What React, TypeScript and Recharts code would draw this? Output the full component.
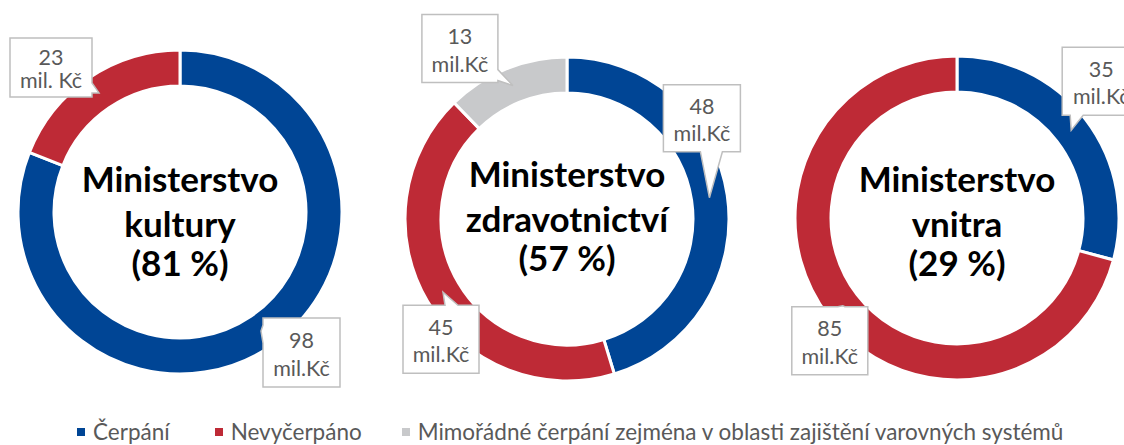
import React from "react";
import { PieChart, Pie, Cell, Legend } from "recharts";

// ---- data ----
const seriesNames = [
  "Čerpání",
  "Nevyčerpáno",
  "Mimořádné čerpání zejména v oblasti zajištění varovných systémů",
];
const kulturyValues = [98, 23];
const zdravotnictviValues = [48, 45, 13];
const vnitraValues = [35, 85];

const kulturyTitle = ["Ministerstvo", "kultury", "(81 %)"];
const zdravotnictviTitle = ["Ministerstvo", "zdravotnictví", "(57 %)"];
const vnitraTitle = ["Ministerstvo", "vnitra", "(29 %)"];

const kulturyUnits = ["mil.Kč", "mil. Kč"];
const zdravotnictviUnits = ["mil.Kč", "mil.Kč", "mil.Kč"];
const vnitraUnits = ["mil.Kč", "mil.Kč"];

// ---- styles ----
const COLORS = ["#004595", "#BE2A36", "#C8C9CB"];
const FONT = "Lato, 'Open Sans', sans-serif";
const LABEL_COLOR = "#595959";
const TITLE_LINES = [0, 45, 84];
const LEGEND_GAPS = [45, 40, 0];

type Callout = { dx: number; dy: number; w: number; h: number; edge: string; base: [number, number] };

const charts = [
  {
    key: "kultury",
    values: kulturyValues,
    title: kulturyTitle,
    units: kulturyUnits,
    cx: 180,
    cy: 212,
    titleBaseline: 192,
    callouts: [
      { dx: 2, dy: -13, w: 77, h: 69, edge: "left", base: [7, 25] },
      { dx: -89, dy: -55, w: 82, h: 59, edge: "right", base: [45, 55] },
    ] as Callout[],
  },
  {
    key: "zdravotnictvi",
    values: zdravotnictviValues,
    title: zdravotnictviTitle,
    units: zdravotnictviUnits,
    cx: 567,
    cy: 219,
    titleBaseline: 187,
    callouts: [
      { dx: -46, dy: -113, w: 77, h: 67, edge: "bottom", base: [37, 59] },
      { dx: -40, dy: 13, w: 76, h: 68, edge: "top", base: [42, 55] },
      { dx: -91, dy: -71, w: 76, h: 68, edge: "right", base: [55, 66] },
    ] as Callout[],
  },
  {
    key: "vnitra",
    values: vnitraValues,
    title: vnitraTitle,
    units: vnitraUnits,
    cx: 957,
    cy: 218,
    titleBaseline: 192,
    callouts: [
      { dx: -9, dy: -83, w: 78, h: 68, edge: "bottom", base: [8, 21] },
      { dx: -51, dy: 1, w: 76, h: 68, edge: "top", base: [46, 53] },
    ] as Callout[],
  },
];

const RADIAN = Math.PI / 180;

function calloutPath(
  x: number,
  y: number,
  w: number,
  h: number,
  edge: string,
  base: [number, number],
  tx: number,
  ty: number
) {
  const [a, b] = base;
  const pts: number[][] = [];
  pts.push([x, y]);
  if (edge === "top") pts.push([x + a, y], [tx, ty], [x + b, y]);
  pts.push([x + w, y]);
  if (edge === "right") pts.push([x + w, y + a], [tx, ty], [x + w, y + b]);
  pts.push([x + w, y + h]);
  if (edge === "bottom") pts.push([x + b, y + h], [tx, ty], [x + a, y + h]);
  pts.push([x, y + h]);
  if (edge === "left") pts.push([x, y + b], [tx, ty], [x, y + a]);
  return "M" + pts.map((p) => p[0].toFixed(1) + "," + p[1].toFixed(1)).join("L") + "Z";
}

function makeLabel(chart: (typeof charts)[number]) {
  return (props: any) => {
    const { cx, cy, midAngle, innerRadius, outerRadius, index, value } = props;
    const r = (innerRadius + outerRadius) / 2;
    const tx = cx + r * Math.cos(-midAngle * RADIAN);
    const ty = cy + r * Math.sin(-midAngle * RADIAN);
    const c = chart.callouts[index];
    const bx = tx + c.dx;
    const by = ty + c.dy;
    return (
      <g key={`lbl-${chart.key}-${index}`}>
        {index === 0 && (
          <g>
            {chart.title.map((line, i) => (
              <text
                key={i}
                x={cx}
                y={chart.titleBaseline + TITLE_LINES[i]}
                textAnchor="middle"
                fontFamily={FONT}
                fontWeight={700}
                fontSize={35}
                fill="#000"
              >
                {line}
              </text>
            ))}
          </g>
        )}
        <path
          d={calloutPath(bx, by, c.w, c.h, c.edge, c.base, tx, ty)}
          fill="#fff"
          stroke="#BFBFBF"
          strokeWidth={1.5}
        />
        <text
          x={bx + c.w / 2}
          y={by + c.h * 0.32}
          textAnchor="middle"
          dominantBaseline="central"
          fontFamily={FONT}
          fontSize={21.5}
          fill={LABEL_COLOR}
        >
          {value}
        </text>
        <text
          x={bx + c.w / 2}
          y={by + c.h * 0.72}
          textAnchor="middle"
          dominantBaseline="central"
          fontFamily={FONT}
          fontSize={21.5}
          fill={LABEL_COLOR}
        >
          {chart.units[index]}
        </text>
      </g>
    );
  };
}

const renderLegend = () => (
  <div
    style={{
      display: "flex",
      alignItems: "center",
      paddingLeft: 77,
      fontFamily: FONT,
      fontSize: 22.5,
      lineHeight: "26px",
      color: LABEL_COLOR,
      whiteSpace: "nowrap",
    }}
  >
    {seriesNames.map((n, i) => (
      <div
        key={n}
        style={{ display: "flex", alignItems: "center", marginRight: LEGEND_GAPS[i] }}
      >
        <span
          style={{
            width: 8,
            height: 8,
            background: COLORS[i],
            marginRight: 8,
            display: "inline-block",
          }}
        />
        <span>{n}</span>
      </div>
    ))}
  </div>
);

export default function App() {
  return (
    <div
      style={{
        position: "fixed",
        left: 0,
        top: 0,
        width: 1124,
        height: 445,
        overflow: "hidden",
        background: "#fff",
      }}
    >
      <PieChart width={1124} height={445} margin={{ top: 0, right: 0, bottom: 0, left: 0 }}>
        {charts.map((chart) => (
          <Pie
            key={chart.key}
            data={chart.values.map((v, i) => ({ name: seriesNames[i], value: v }))}
            dataKey="value"
            nameKey="name"
            cx={chart.cx}
            cy={chart.cy}
            innerRadius={126}
            outerRadius={162}
            startAngle={90}
            endAngle={-270}
            stroke="#fff"
            strokeWidth={3}
            label={makeLabel(chart)}
            labelLine={false}
            isAnimationActive={false}
          >
            {chart.values.map((_, i) => (
              <Cell key={i} fill={COLORS[i]} />
            ))}
          </Pie>
        ))}
        <Legend
          content={renderLegend}
          wrapperStyle={{ left: 0, top: 419, bottom: "auto", width: 1124 }}
        />
      </PieChart>
    </div>
  );
}
